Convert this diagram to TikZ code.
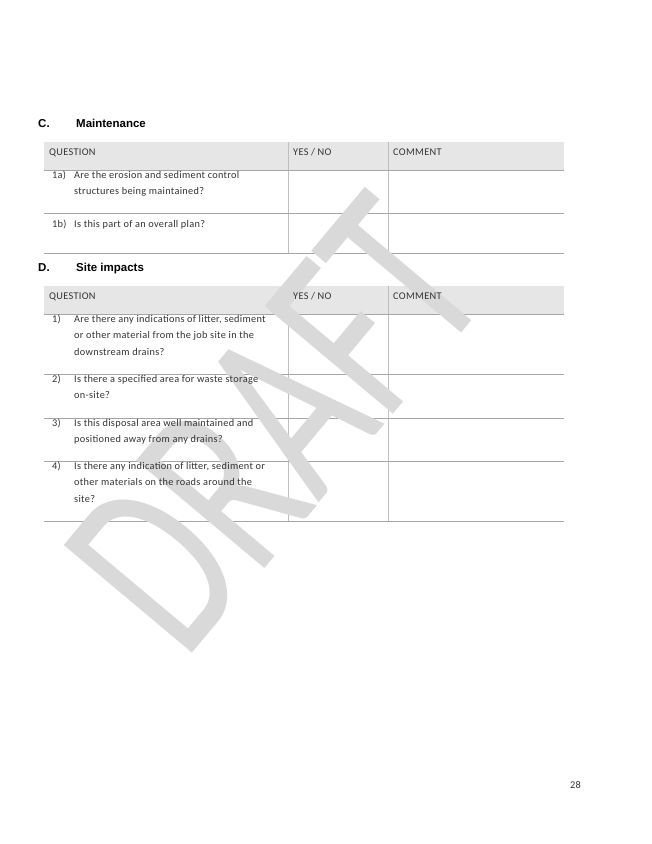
\documentclass[tikz,border=0pt]{standalone}
\usepackage{fontspec}
\setmainfont{Carlito}[LetterSpace=3]
\newfontfamily\wmfont{Carlito}
\newfontfamily\hfont{Liberation Sans}
\definecolor{hdr}{HTML}{E6E6E6}
\definecolor{wm}{HTML}{D9D9D9}
\definecolor{txt}{HTML}{333333}
\begin{document}
\begin{tikzpicture}[x=1pt,y=-1pt,
  cell/.style={anchor=north west,font=\fontsize{10.3}{16.5}\selectfont,text=txt,inner sep=0pt,align=left},
  hcell/.style={anchor=base west,font=\fontsize{10.3}{12}\selectfont,text=txt,inner sep=0pt},
  rule/.style={draw=gray!70,line width=0.6pt},
  vrule/.style={draw=gray!50,line width=0.5pt},
  head/.style={anchor=base west,font=\hfont\bfseries\fontsize{11.5}{13}\selectfont,inner sep=0pt}]
\useasboundingbox (0,0) rectangle (652,844);
% table C
\fill[hdr] (44,142) rectangle (564,170);
\draw[vrule] (288,142)--(288,253) (388,142)--(388,253);
\draw[rule] (44,170)--(564,170) (44,213)--(564,213) (44,253)--(564,253);
% table D
\fill[hdr] (44,286) rectangle (564,314);
\draw[vrule] (288,286)--(288,521) (388,286)--(388,521);
\draw[rule] (44,314)--(564,314) (44,374)--(564,374) (44,418)--(564,418) (44,461)--(564,461) (44,521)--(564,521);
% watermark
\node[font=\wmfont\fontsize{180}{180}\selectfont,text=wm,rotate=50,yscale=1.45,inner sep=0pt] (wmk) at (276,424) {DRAFT};
% headings
\node[head] (hc) at (38,127) {C.};
\node[head] (hcm) at (76,127) {Maintenance};
\node[head] (hd) at (38,271) {D.};
\node[head] (hdm) at (76,271) {Site impacts};
% headers
\foreach \y/\n in {155/a,299/b}{
 \node[hcell] (q\n) at (49,\y) {QUESTION};
 \node[hcell] (y\n) at (293,\y) {YES / NO};
 \node[hcell] (c\n) at (393,\y) {COMMENT};
}
\node[cell] (n1a) at (52,171) {1a)};
\node[cell] (t1a) at (74,171) {Are the erosion and sediment control\\structures being maintained?};
\node[cell] (n1b) at (52,220) {1b)};
\node[cell] (t1b) at (74,220) {Is this part of an overall plan?};
\node[cell] (n1) at (52,315) {1)};
\node[cell] (t1) at (74,315) {Are there any indications of litter, sediment\\or other material from the job site in the\\downstream drains?};
\node[cell] (n2) at (52,375) {2)};
\node[cell] (t2) at (74,375) {Is there a specified area for waste storage\\on-site?};
\node[cell] (n3) at (52,419) {3)};
\node[cell] (t3) at (74,419) {Is this disposal area well maintained and\\positioned away from any drains?};
\node[cell] (n4) at (52,462) {4)};
\node[cell] (t4) at (74,462) {Is there any indication of litter, sediment or\\other materials on the roads around the\\site?};
\node[cell,anchor=east] (pg) at (581,785) {28};
\end{tikzpicture}
\end{document}
